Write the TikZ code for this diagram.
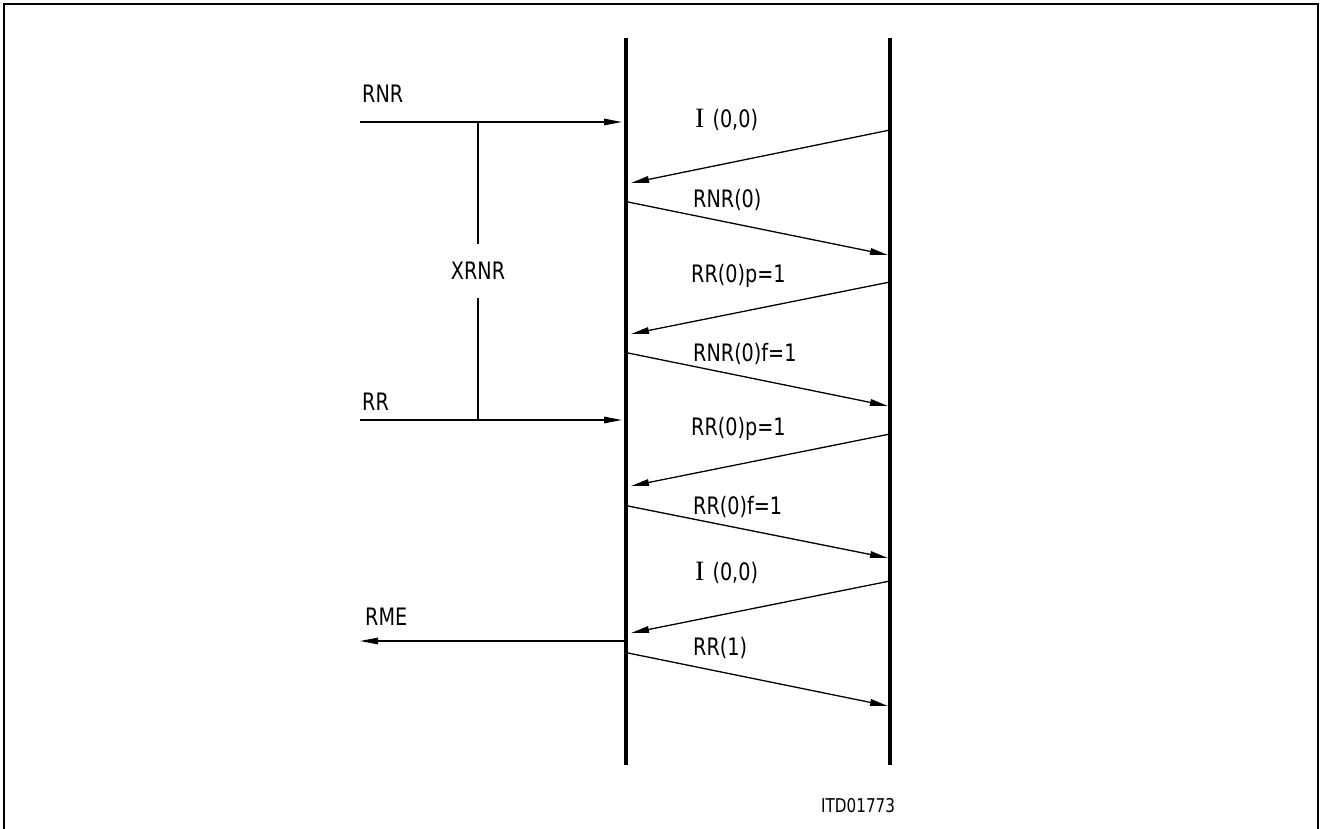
\documentclass[tikz,border=0pt]{standalone}
\usepackage{fontspec}
\setmainfont{DejaVu Sans}[FakeStretch=0.8]
\newfontfamily\serI{Liberation Serif}
\usetikzlibrary{arrows.meta}
\begin{document}
\begin{tikzpicture}[x=1pt,y=-1pt,
  thinline/.style={line width=1.3pt},
  msg/.style={line width=1.3pt,-{Triangle[length=18pt,width=6.5pt]}},
  life/.style={line width=3.5pt},
  lbl/.style={font=\fontsize{24}{28}\selectfont, inner sep=0pt, anchor=west},
  small/.style={font=\fontsize{19}{22}\selectfont, inner sep=0pt, anchor=west},
]
\useasboundingbox (0,0) rectangle (1322,829);
\draw[line width=2pt] (4,829) -- (4,4) -- (1318,4) -- (1318,829);

% lifelines
\coordinate (Lt) at (626,38); \coordinate (Lb) at (626,765);
\coordinate (Rt) at (890,38); \coordinate (Rb) at (890,765);
\draw[life] (Lt) -- (Lb);
\draw[life] (Rt) -- (Rb);

% left side
\coordinate (rnrS) at (360,122); \coordinate (rnrE) at (622,122);
\coordinate (rrS) at (360,420);  \coordinate (rrE) at (622,420);
\coordinate (rmeS) at (626,641); \coordinate (rmeE) at (360,641);
\draw[msg] (rnrS) -- (rnrE);
\draw[msg] (rrS) -- (rrE);
\draw[msg] (rmeS) -- (rmeE);
\node[lbl] (lrnr) at (362,94) {RNR};
\node[lbl] (lrr) at (362,402) {RR};
\node[lbl] (lrme) at (365,617) {RME};

\coordinate (j1) at (478,122); \coordinate (j2) at (478,420);
\node[font=\fontsize{24}{28}\selectfont, inner sep=0pt, minimum height=54pt] (xrnr) at (478,271) {XRNR};
\draw[thinline] (j1) -- (xrnr.north);
\draw[thinline] (xrnr.south) -- (j2);

% messages
\coordinate (m1s) at (890,130); \coordinate (m1e) at (631,183);
\coordinate (m2s) at (628,202); \coordinate (m2e) at (888,255);
\coordinate (m3s) at (890,282); \coordinate (m3e) at (631,334);
\coordinate (m4s) at (628,353); \coordinate (m4e) at (888,406);
\coordinate (m5s) at (890,434); \coordinate (m5e) at (631,486);
\coordinate (m6s) at (628,506); \coordinate (m6e) at (888,558);
\coordinate (m7s) at (890,581); \coordinate (m7e) at (631,633);
\coordinate (m8s) at (628,653); \coordinate (m8e) at (888,706);
\foreach \i in {1,...,8} {\draw[msg] (m\i s) -- (m\i e);}

\node[lbl] (t1) at (695,120) {{\serI\fontsize{28}{30}\selectfont I}\,\,(0,0)};
\node[lbl] (t2) at (693,200) {RNR(0)};
\node[lbl] (t3) at (691,276) {RR(0)p=1};
\node[lbl] (t4) at (693,354) {RNR(0)f=1};
\node[lbl] (t5) at (691,429) {RR(0)p=1};
\node[lbl] (t6) at (693,507) {RR(0)f=1};
\node[lbl] (t7) at (695,573) {{\serI\fontsize{28}{30}\selectfont I}\,\,(0,0)};
\node[lbl] (t8) at (693,648) {RR(1)};

\node[small] (itd) at (821,806) {ITD01773};
\end{tikzpicture}
\end{document}
